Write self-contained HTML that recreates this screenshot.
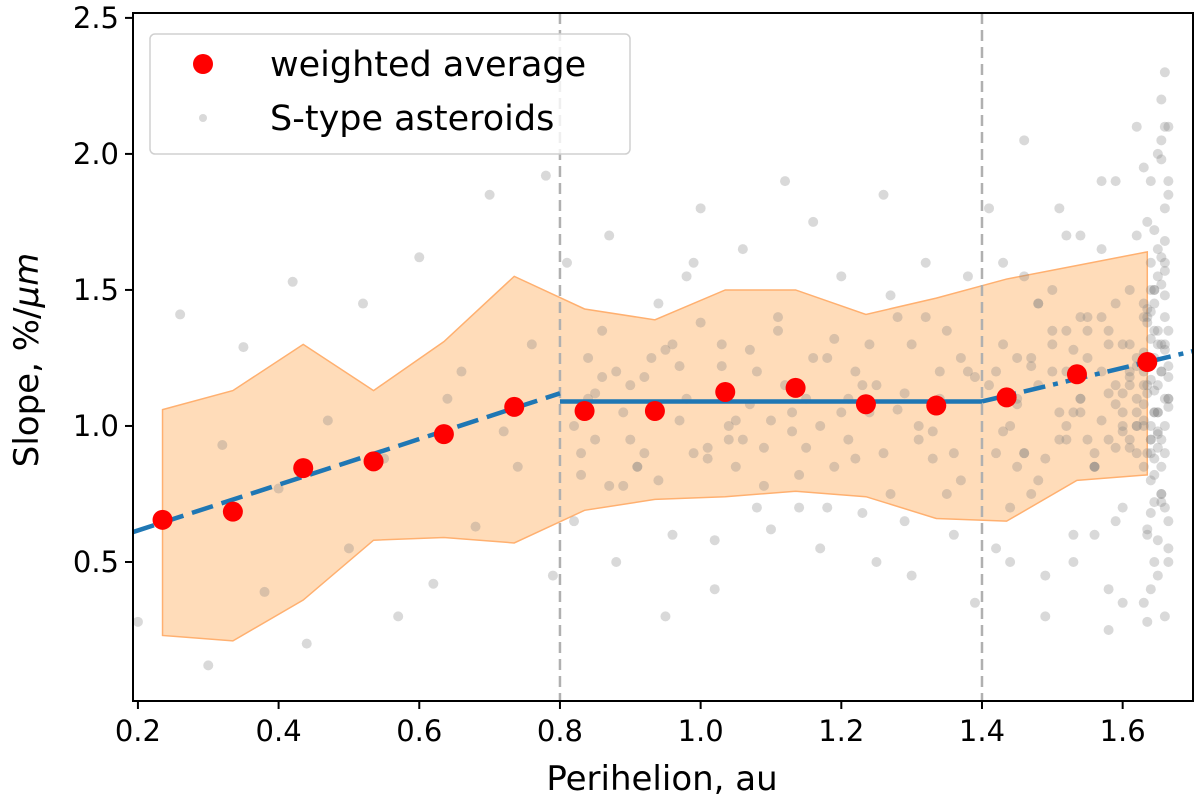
<!DOCTYPE html>
<html><head><meta charset="utf-8"><style>
html,body{margin:0;padding:0;background:#fff;}
svg text{font-family:"DejaVu Sans","Liberation Sans",sans-serif;fill:#000;}
</style></head><body>
<svg id="chart" width="1200" height="806" xmlns="http://www.w3.org/2000/svg" style="position:absolute;left:0;top:0"></svg>
<script>
const binX=[0.235,0.335,0.435,0.535,0.635,0.735,0.835,0.935,1.035,1.135,1.235,1.335,1.435,1.535,1.635];
const avgY=[0.655,0.685,0.845,0.87,0.97,1.07,1.055,1.055,1.125,1.14,1.08,1.075,1.105,1.19,1.235];
const bandUpper=[1.06,1.13,1.30,1.13,1.31,1.55,1.43,1.39,1.50,1.50,1.41,1.47,1.54,1.59,1.64];
const bandLower=[0.23,0.21,0.36,0.58,0.59,0.57,0.69,0.73,0.74,0.76,0.74,0.66,0.65,0.80,0.82];
const fit1X=[0.193,0.8], fit1Y=[0.61,1.12];
const fit2X=[0.8,1.4], fit2Y=[1.09,1.09];
const fit3X=[1.4,1.70], fit3Y=[1.09,1.275];
const vlines=[0.8,1.4];
const xTicks=[0.2,0.4,0.6,0.8,1.0,1.2,1.4,1.6];
const xTickLabels=["0.2","0.4","0.6","0.8","1.0","1.2","1.4","1.6"];
const yTicks=[0.5,1.0,1.5,2.0,2.5];
const yTickLabels=["0.5","1.0","1.5","2.0","2.5"];
const scatterX=[0.2,0.26,0.3,0.32,0.35,0.38,0.4,0.42,0.44,0.47,0.5,0.52,0.55,0.57,0.6,0.62,0.64,0.66,0.68,0.7,0.72,0.74,0.76,0.78,0.79,
0.81,0.82,0.84,0.85,0.87,0.88,0.9,0.91,0.93,0.94,0.96,0.97,0.99,1.0,1.02,1.03,1.05,1.06,1.08,1.09,1.11,1.12,1.14,1.15,1.17,1.18,1.2,1.21,1.23,1.24,1.26,1.27,1.29,1.3,1.32,1.33,1.35,1.36,1.38,1.39,
0.83,0.86,0.89,0.92,0.95,0.98,1.01,1.04,1.07,1.1,1.13,1.16,1.19,1.22,1.25,1.28,1.31,1.34,1.37,
0.84,0.9,0.96,1.02,1.08,1.14,1.2,1.26,1.32,1.38,0.87,0.93,0.99,1.05,1.11,1.17,1.23,1.29,1.35,
0.82,0.88,0.94,1.0,1.06,1.12,1.18,1.24,1.3,1.36,0.85,0.91,0.97,1.03,1.09,1.15,1.21,1.27,1.33,1.39,
0.83,0.89,0.95,1.01,1.07,1.13,1.19,1.25,1.31,1.37,0.86,0.92,0.98,1.04,1.1,1.16,1.22,1.28,1.34,
1.41,1.42,1.43,1.44,1.45,1.46,1.47,1.48,1.49,1.5,1.51,1.52,1.53,1.54,1.55,1.56,1.57,1.58,1.59,1.6,1.61,1.62,
1.41,1.43,1.45,1.47,1.49,1.51,1.53,1.55,1.57,1.59,1.61,1.62,1.42,1.44,1.46,1.48,1.5,1.52,1.54,1.56,1.58,1.6,1.62,
1.44,1.48,1.52,1.56,1.6,1.46,1.5,1.54,1.58,1.61,1.45,1.53,1.57,1.59,1.62,
1.42,1.46,1.5,1.54,1.58,1.62,1.44,1.48,1.52,1.56,1.6,1.43,1.47,1.51,1.55,1.59,1.61,1.45,1.49,1.53,1.57,1.62,
1.52,1.55,1.58,1.6,1.61,1.62,1.57,1.59,1.6,1.61,1.56,1.58,1.6,1.62,1.54,1.59,1.61,1.62,
1.63,1.635,1.64,1.645,1.65,1.655,1.66,1.665,1.63,1.635,1.64,1.645,1.65,1.655,1.66,1.665,1.63,1.635,1.64,1.645,1.65,1.655,1.66,1.665,
1.63,1.64,1.65,1.66,1.635,1.645,1.655,1.665,1.63,1.64,1.65,1.66,1.635,1.645,1.655,1.665,1.63,1.64,1.65,1.66,1.635,1.645,1.655,1.665,
1.63,1.64,1.65,1.66,1.635,1.645,1.655,1.665,1.63,1.64,1.65,1.66,1.635,1.645,1.655,1.665,1.63,1.64,1.65,1.66,1.635,1.645,1.655,1.665,
1.63,1.64,1.65,1.66,1.635,1.645,1.655,1.665,1.63,1.64,1.65,1.66,1.635,1.645,1.655,1.665,
1.64,1.65,1.66,1.655,1.645,1.635,1.66,1.65,1.64,1.655,1.645,1.66,1.665,1.66,1.665];
const scatterY=[0.28,1.41,0.12,0.93,1.29,0.39,0.77,1.53,0.2,1.02,0.55,1.45,0.88,0.3,1.62,0.42,1.1,1.2,0.63,1.85,0.98,0.85,1.3,1.92,0.45,
1.6,0.65,1.25,0.95,1.7,0.5,1.15,0.85,1.05,1.45,0.6,1.22,0.9,1.8,0.4,1.3,1.02,1.65,0.7,0.92,1.4,1.9,0.82,1.1,0.55,1.25,1.55,0.95,0.68,1.3,1.85,0.75,1.12,0.45,1.6,0.98,1.35,0.6,1.2,0.35,
0.9,1.35,0.78,1.18,0.3,1.55,0.88,1.0,1.28,0.62,1.05,1.75,0.85,1.2,0.5,1.4,0.95,1.1,0.8,
1.1,0.95,1.3,0.58,1.2,0.7,1.05,0.9,1.4,1.55,0.78,1.25,1.6,0.85,1.35,1.0,1.15,0.65,0.75,
1.0,1.2,0.8,1.38,0.95,1.15,0.7,1.05,1.3,0.9,1.12,0.85,1.02,1.22,0.78,0.92,1.1,1.48,0.88,1.18,
0.82,1.05,1.28,0.92,1.08,0.98,1.32,1.15,1.0,1.25,1.18,0.9,1.1,0.95,1.02,1.25,0.88,1.06,1.2,
1.8,0.9,1.3,0.5,1.1,2.05,0.75,1.45,0.3,1.2,0.95,1.7,0.6,1.05,1.35,0.85,1.9,0.4,1.15,0.7,1.5,1.0,
1.15,1.6,0.85,1.25,0.45,1.8,1.05,0.95,1.4,0.65,1.2,2.1,0.55,1.1,1.55,0.8,1.35,1.0,1.7,0.9,1.3,0.35,
1.0,0.7,1.45,1.2,0.6,1.3,0.9,1.5,1.1,0.25,0.95,1.25,0.5,1.65,1.9,
1.05,1.2,0.9,1.3,1.1,0.95,1.25,1.0,1.15,1.35,0.85,1.12,0.98,1.22,1.05,1.4,0.92,1.18,1.08,0.88,1.28,1.02,
1.1,0.95,1.25,1.35,1.0,1.15,0.9,1.2,1.45,1.05,1.3,0.85,1.12,0.98,1.22,1.4,1.08,0.92,
1.7,1.2,0.9,1.5,1.05,1.35,0.75,1.6,1.1,0.85,1.4,1.0,1.25,1.55,0.95,1.3,0.65,1.15,1.75,0.8,1.45,1.05,1.2,0.9,
1.35,1.0,1.6,1.15,0.7,1.25,1.5,0.85,1.1,1.4,0.95,1.3,1.8,0.6,1.05,1.2,0.55,1.45,0.9,1.65,1.0,1.15,1.35,0.75,
1.22,1.08,1.42,0.98,1.28,1.12,0.88,1.52,1.18,1.02,1.32,0.92,1.48,1.38,0.82,1.62,1.07,1.27,1.17,0.97,1.57,1.43,1.13,0.72,
1.85,1.95,0.68,0.45,1.68,0.62,1.72,2.05,0.5,0.35,1.9,0.58,2.1,0.28,0.72,1.98,
1.9,0.4,2.0,0.3,2.2,0.5,1.25,1.1,1.05,0.95,1.3,1.5,1.4,2.1,2.3];
const X0=133,X1=1193,Y0=13,Y1=701,XMIN=0.193,XMAX=1.7,YMIN=-0.011,YMAX=2.518;
const sx=v=>X0+(v-XMIN)/(XMAX-XMIN)*(X1-X0);
const sy=v=>Y1-(v-YMIN)/(YMAX-YMIN)*(Y1-Y0);
const NS='http://www.w3.org/2000/svg';
const svg=document.getElementById('chart');
function mk(tag,attrs,parent){const e=document.createElementNS(NS,tag);for(const k in attrs)e.setAttribute(k,attrs[k]);(parent||svg).appendChild(e);return e;}
const defs=mk('defs',{});
const cp=mk('clipPath',{id:'plotclip'},defs);
mk('rect',{x:X0,y:Y0,width:X1-X0,height:Y1-Y0},cp);
let pts=binX.map((x,i)=>sx(x)+','+sy(bandUpper[i]));
for(let i=binX.length-1;i>=0;i--)pts.push(sx(binX[i])+','+sy(bandLower[i]));
const band=mk('polygon',{points:pts.join(' '),fill:'#ffbf80',"fill-opacity":0.55,stroke:'#ffb070',"stroke-width":1.5});


const g=mk('g',{"clip-path":'url(#plotclip)'});


scatterX.forEach((x,i)=>{const c=mk('circle',{cx:sx(x),cy:sy(scatterY[i]),r:5,fill:'#808080',"fill-opacity":0.3},g);

});
vlines.forEach(v=>{const l=mk('line',{x1:sx(v),x2:sx(v),y1:Y0,y2:Y1,stroke:'#b0b0b0',"stroke-width":2.5,"stroke-dasharray":'11,6'});

});
function fit(xs,ys,dash,name){const l=mk('line',{x1:sx(xs[0]),y1:sy(ys[0]),x2:sx(xs[1]),y2:sy(ys[1]),stroke:'#1f77b4',"stroke-width":4.5});
if(dash)l.setAttribute('stroke-dasharray',dash);

}
fit(fit1X,fit1Y,'22,9','fit-line-low');
fit(fit2X,fit2Y,null,'fit-line-mid');
fit(fit3X,fit3Y,'22,8,5,8','fit-line-high');
binX.forEach((x,i)=>{const c=mk('circle',{cx:sx(x),cy:sy(avgY[i]),r:10,fill:'#ff0000'});

});
const fr=mk('rect',{x:X0,y:Y0,width:X1-X0,height:Y1-Y0,fill:'none',stroke:'#000',"stroke-width":2});


xTicks.forEach((v,i)=>{mk('line',{x1:sx(v),x2:sx(v),y1:Y1,y2:Y1+8,stroke:'#000',"stroke-width":2});
const t=mk('text',{x:sx(v),y:Y1+40,"text-anchor":'middle',"font-size":29});t.textContent=xTickLabels[i];

});
yTicks.forEach((v,i)=>{mk('line',{x1:X0-8,x2:X0,y1:sy(v),y2:sy(v),stroke:'#000',"stroke-width":2});
const t=mk('text',{x:X0-14,y:sy(v)+10,"text-anchor":'end',"font-size":29});t.textContent=yTickLabels[i];

});
</script>
<svg style="position:absolute;left:0;top:0" width="1200" height="806">
<text x="662" y="790" text-anchor="middle" font-size="34">Perihelion, au</text>
<text transform="translate(38,360) rotate(-90)" text-anchor="middle" font-size="34">Slope, %/<tspan font-style="italic">μm</tspan></text>
<g>
<rect x="150" y="34" width="480" height="120" rx="5" fill="#fff" fill-opacity="0.8" stroke="#d0d0d0" stroke-width="1.5"/>
<circle cx="203" cy="64" r="10" fill="#ff0000"/>
<text x="270" y="76" font-size="35">weighted average</text>
<circle cx="203" cy="118" r="4" fill="#808080" fill-opacity="0.3"/>
<text x="270" y="130" font-size="35">S-type asteroids</text>
</g>
</svg>
</body></html>
